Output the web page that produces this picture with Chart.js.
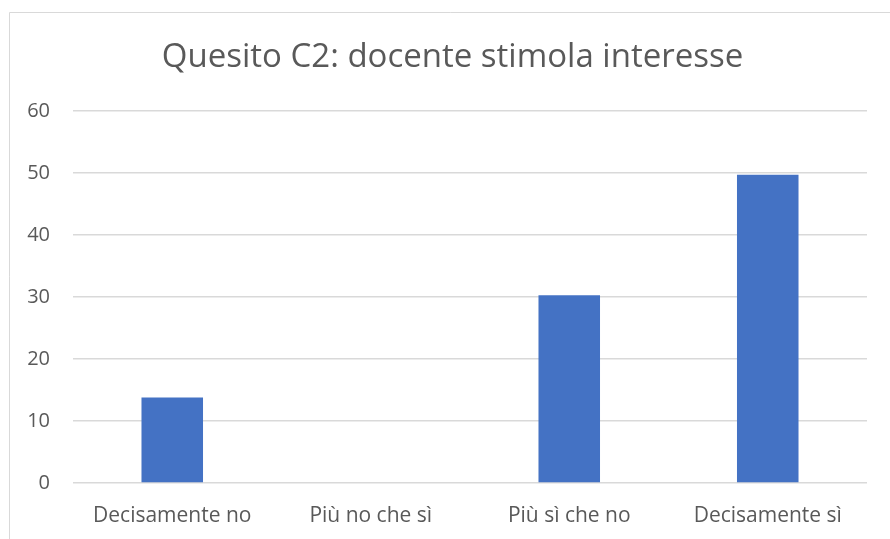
<!DOCTYPE html>
<html>
<head>
<meta charset="utf-8">
<script src="https://cdn.jsdelivr.net/npm/chart.js@4"></script>
<style>
  html, body { margin: 0; padding: 0; background: #fff; }
  #wrap { width: 890px; height: 539px; position: relative; }
</style>
</head>
<body>
<div id="wrap"><canvas id="chart" width="890" height="539"></canvas></div>
<script>
// Chart values
const categories = ['Decisamente no', 'Più no che sì', 'Più sì che no', 'Decisamente sì'];
const values = [13.8, 0, 30.3, 49.7];
const yMin = 0;
const yMax = 60;
const yStep = 10;
const chartTitle = 'Quesito C2: docente stimola interesse';

const textColor = '#595959';
const gridColor = '#d9d9d9';
const fontFamily = "'Open Sans', sans-serif";

// Outer frame and title of the chart object
const framePlugin = {
  id: 'frame',
  beforeDraw(chart) {
    const ctx = chart.ctx;
    ctx.save();
    ctx.fillStyle = '#fff';
    ctx.fillRect(0, 0, chart.width, chart.height);
    ctx.strokeStyle = gridColor;
    ctx.lineWidth = 1;
    ctx.beginPath();
    ctx.moveTo(9.5, chart.height + 2);
    ctx.lineTo(9.5, 12.5);
    ctx.lineTo(chart.width + 2, 12.5);
    ctx.stroke();
    ctx.restore();
  },
  afterDraw(chart) {
    const ctx = chart.ctx;
    ctx.save();
    ctx.fillStyle = textColor;
    ctx.font = "33px " + fontFamily;
    ctx.textAlign = 'center';
    ctx.textBaseline = 'alphabetic';
    ctx.fillText(chartTitle, 452.5, 67);
    ctx.restore();
  }
};

const ctx = document.getElementById('chart').getContext('2d');
new Chart(ctx, {
  type: 'bar',
  data: {
    labels: categories,
    datasets: [{
      data: values,
      backgroundColor: '#4472c4',
      borderWidth: 0,
      categoryPercentage: 1,
      barPercentage: 0.31
    }]
  },
  options: {
    responsive: false,
    animation: false,
    layout: { padding: { left: 0, right: 23, top: 111, bottom: 0 } },
    plugins: {
      legend: { display: false },
      tooltip: { enabled: false },
      title: { display: false }
    },
    scales: {
      x: {
        grid: { display: false },
        border: { display: false },
        ticks: {
          color: textColor,
          font: { family: fontFamily, size: 21 },
          padding: 12,
          maxRotation: 0
        },
        afterFit(scale) { scale.height = 56; }
      },
      y: {
        min: yMin,
        max: yMax,
        grid: { color: gridColor, lineWidth: 1.5, drawTicks: false },
        border: { display: false },
        ticks: {
          stepSize: yStep,
          color: textColor,
          font: { family: fontFamily, size: 20 },
          padding: 23
        },
        afterFit(scale) { scale.width = 73; }
      }
    }
  },
  plugins: [framePlugin]
});
</script>
</body>
</html>
